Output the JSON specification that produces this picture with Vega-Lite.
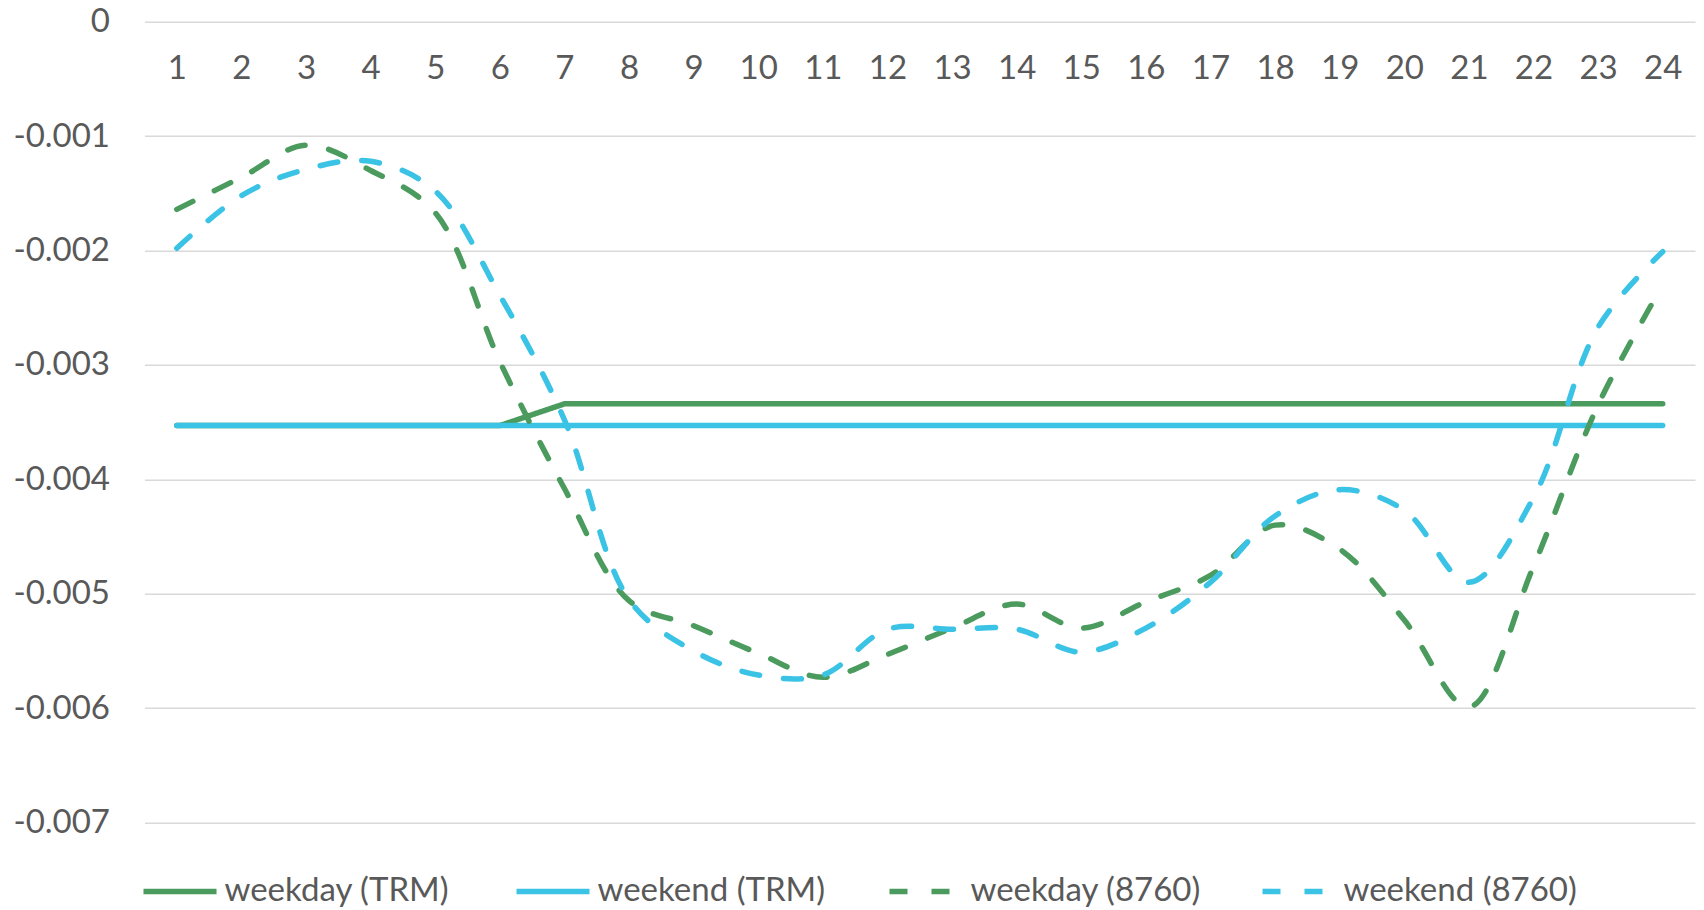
{
  "$schema": "https://vega.github.io/schema/vega-lite/v6.json",
  "autosize": "none",
  "padding": {"left": 144.5, "top": 21.7, "right": 9, "bottom": 87.4},
  "width": 1550.5,
  "height": 800.9,
  "background": "white",
  "config": {
    "view": {"stroke": null},
    "font": "Lato",
    "axis": {"labelFont": "Lato", "labelColor": "#595959", "labelFontSize": 33, "title": null}
  },
  "data": {"values": [
    {"hour": 1, "series": "weekday (TRM)", "value": -0.00353},
    {"hour": 2, "series": "weekday (TRM)", "value": -0.00353},
    {"hour": 3, "series": "weekday (TRM)", "value": -0.00353},
    {"hour": 4, "series": "weekday (TRM)", "value": -0.00353},
    {"hour": 5, "series": "weekday (TRM)", "value": -0.00353},
    {"hour": 6, "series": "weekday (TRM)", "value": -0.00353},
    {"hour": 7, "series": "weekday (TRM)", "value": -0.00334},
    {"hour": 8, "series": "weekday (TRM)", "value": -0.00334},
    {"hour": 9, "series": "weekday (TRM)", "value": -0.00334},
    {"hour": 10, "series": "weekday (TRM)", "value": -0.00334},
    {"hour": 11, "series": "weekday (TRM)", "value": -0.00334},
    {"hour": 12, "series": "weekday (TRM)", "value": -0.00334},
    {"hour": 13, "series": "weekday (TRM)", "value": -0.00334},
    {"hour": 14, "series": "weekday (TRM)", "value": -0.00334},
    {"hour": 15, "series": "weekday (TRM)", "value": -0.00334},
    {"hour": 16, "series": "weekday (TRM)", "value": -0.00334},
    {"hour": 17, "series": "weekday (TRM)", "value": -0.00334},
    {"hour": 18, "series": "weekday (TRM)", "value": -0.00334},
    {"hour": 19, "series": "weekday (TRM)", "value": -0.00334},
    {"hour": 20, "series": "weekday (TRM)", "value": -0.00334},
    {"hour": 21, "series": "weekday (TRM)", "value": -0.00334},
    {"hour": 22, "series": "weekday (TRM)", "value": -0.00334},
    {"hour": 23, "series": "weekday (TRM)", "value": -0.00334},
    {"hour": 24, "series": "weekday (TRM)", "value": -0.00334},
    {"hour": 1, "series": "weekend (TRM)", "value": -0.00353},
    {"hour": 2, "series": "weekend (TRM)", "value": -0.00353},
    {"hour": 3, "series": "weekend (TRM)", "value": -0.00353},
    {"hour": 4, "series": "weekend (TRM)", "value": -0.00353},
    {"hour": 5, "series": "weekend (TRM)", "value": -0.00353},
    {"hour": 6, "series": "weekend (TRM)", "value": -0.00353},
    {"hour": 7, "series": "weekend (TRM)", "value": -0.00353},
    {"hour": 8, "series": "weekend (TRM)", "value": -0.00353},
    {"hour": 9, "series": "weekend (TRM)", "value": -0.00353},
    {"hour": 10, "series": "weekend (TRM)", "value": -0.00353},
    {"hour": 11, "series": "weekend (TRM)", "value": -0.00353},
    {"hour": 12, "series": "weekend (TRM)", "value": -0.00353},
    {"hour": 13, "series": "weekend (TRM)", "value": -0.00353},
    {"hour": 14, "series": "weekend (TRM)", "value": -0.00353},
    {"hour": 15, "series": "weekend (TRM)", "value": -0.00353},
    {"hour": 16, "series": "weekend (TRM)", "value": -0.00353},
    {"hour": 17, "series": "weekend (TRM)", "value": -0.00353},
    {"hour": 18, "series": "weekend (TRM)", "value": -0.00353},
    {"hour": 19, "series": "weekend (TRM)", "value": -0.00353},
    {"hour": 20, "series": "weekend (TRM)", "value": -0.00353},
    {"hour": 21, "series": "weekend (TRM)", "value": -0.00353},
    {"hour": 22, "series": "weekend (TRM)", "value": -0.00353},
    {"hour": 23, "series": "weekend (TRM)", "value": -0.00353},
    {"hour": 24, "series": "weekend (TRM)", "value": -0.00353},
    {"hour": 1, "series": "weekday (8760)", "value": -0.00164},
    {"hour": 2, "series": "weekday (8760)", "value": -0.00136},
    {"hour": 3, "series": "weekday (8760)", "value": -0.00108},
    {"hour": 4, "series": "weekday (8760)", "value": -0.0013},
    {"hour": 5, "series": "weekday (8760)", "value": -0.00167},
    {"hour": 6, "series": "weekday (8760)", "value": -0.00297},
    {"hour": 7, "series": "weekday (8760)", "value": -0.00408},
    {"hour": 8, "series": "weekday (8760)", "value": -0.00506},
    {"hour": 9, "series": "weekday (8760)", "value": -0.00528},
    {"hour": 10, "series": "weekday (8760)", "value": -0.00552},
    {"hour": 11, "series": "weekday (8760)", "value": -0.00573},
    {"hour": 12, "series": "weekday (8760)", "value": -0.00553},
    {"hour": 13, "series": "weekday (8760)", "value": -0.0053},
    {"hour": 14, "series": "weekday (8760)", "value": -0.00509},
    {"hour": 15, "series": "weekday (8760)", "value": -0.0053},
    {"hour": 16, "series": "weekday (8760)", "value": -0.00507},
    {"hour": 17, "series": "weekday (8760)", "value": -0.00484},
    {"hour": 18, "series": "weekday (8760)", "value": -0.0044},
    {"hour": 19, "series": "weekday (8760)", "value": -0.00461},
    {"hour": 20, "series": "weekday (8760)", "value": -0.00523},
    {"hour": 21, "series": "weekday (8760)", "value": -0.00599},
    {"hour": 22, "series": "weekday (8760)", "value": -0.00476},
    {"hour": 23, "series": "weekday (8760)", "value": -0.00335},
    {"hour": 24, "series": "weekday (8760)", "value": -0.0023},
    {"hour": 1, "series": "weekend (8760)", "value": -0.00198},
    {"hour": 2, "series": "weekend (8760)", "value": -0.00152},
    {"hour": 3, "series": "weekend (8760)", "value": -0.00129},
    {"hour": 4, "series": "weekend (8760)", "value": -0.00122},
    {"hour": 5, "series": "weekend (8760)", "value": -0.00148},
    {"hour": 6, "series": "weekend (8760)", "value": -0.00239},
    {"hour": 7, "series": "weekend (8760)", "value": -0.00348},
    {"hour": 8, "series": "weekend (8760)", "value": -0.00505},
    {"hour": 9, "series": "weekend (8760)", "value": -0.0055},
    {"hour": 10, "series": "weekend (8760)", "value": -0.00571},
    {"hour": 11, "series": "weekend (8760)", "value": -0.00571},
    {"hour": 12, "series": "weekend (8760)", "value": -0.00531},
    {"hour": 13, "series": "weekend (8760)", "value": -0.00531},
    {"hour": 14, "series": "weekend (8760)", "value": -0.00531},
    {"hour": 15, "series": "weekend (8760)", "value": -0.00551},
    {"hour": 16, "series": "weekend (8760)", "value": -0.0053},
    {"hour": 17, "series": "weekend (8760)", "value": -0.0049},
    {"hour": 18, "series": "weekend (8760)", "value": -0.00432},
    {"hour": 19, "series": "weekend (8760)", "value": -0.00409},
    {"hour": 20, "series": "weekend (8760)", "value": -0.00427},
    {"hour": 21, "series": "weekend (8760)", "value": -0.0049},
    {"hour": 22, "series": "weekend (8760)", "value": -0.00416},
    {"hour": 23, "series": "weekend (8760)", "value": -0.00267},
    {"hour": 24, "series": "weekend (8760)", "value": -0.00201}
  ]},
  "encoding": {
    "x": {
      "field": "hour", "type": "ordinal",
      "scale": {"type": "point", "padding": 0.5},
      "axis": {"orient": "top", "domain": false, "ticks": false, "tickSize": 0, "grid": false, "labelAngle": 0, "labelPadding": -47, "labelBaseline": "middle"}
    },
    "y": {
      "field": "value", "type": "quantitative",
      "scale": {"domain": [-0.007, 0], "nice": false, "zero": false},
      "axis": {"values": [0, -0.001, -0.002, -0.003, -0.004, -0.005, -0.006, -0.007], "domain": false, "ticks": false, "tickSize": 0, "grid": true, "gridColor": "#D9D9D9", "gridWidth": 1.6, "labelPadding": 35, "labelExpr": "replace(format(datum.value, '.3~f'), '\u2212', '-')"}
    },
    "color": {
      "field": "series", "type": "nominal",
      "scale": {"domain": ["weekday (TRM)", "weekend (TRM)", "weekday (8760)", "weekend (8760)"], "range": ["#4A9B5D", "#3BC3E5", "#4A9B5D", "#3BC3E5"]},
      "legend": {"title": null, "orient": "none", "legendX": -4, "legendY": 830, "direction": "horizontal", "columns": 4, "gridAlign": "all", "columnPadding": 47, "symbolType": "stroke", "symbolSize": 5329, "symbolStrokeWidth": 5.5, "labelFont": "Lato", "labelFontSize": 33, "labelColor": "#595959", "labelOffset": 5, "labelLimit": 400}
    },
    "strokeDash": {
      "field": "series", "type": "nominal",
      "scale": {"domain": ["weekday (TRM)", "weekend (TRM)", "weekday (8760)", "weekend (8760)"], "range": [[1, 0], [1, 0], [18, 24], [18, 24]]},
      "legend": {"title": null}
    }
  },
  "layer": [
    {"transform": [{"filter": "datum.series == 'weekday (TRM)'"}], "mark": {"type": "line", "strokeWidth": 5.5, "strokeCap": "round"}},
    {"transform": [{"filter": "datum.series == 'weekend (TRM)'"}], "mark": {"type": "line", "strokeWidth": 5.5, "strokeCap": "round"}},
    {"transform": [{"filter": "datum.series == 'weekday (8760)'"}], "mark": {"type": "line", "strokeWidth": 5.5, "strokeCap": "round", "interpolate": "catmull-rom"}},
    {"transform": [{"filter": "datum.series == 'weekend (8760)'"}], "mark": {"type": "line", "strokeWidth": 5.5, "strokeCap": "round", "interpolate": "catmull-rom"}}
  ]
}
